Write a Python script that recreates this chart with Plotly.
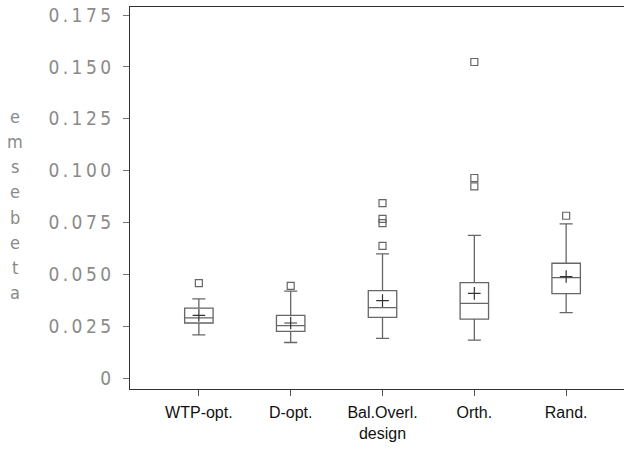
import plotly.graph_objects as go

categories = ["WTP-opt.", "D-opt.", "Bal.Overl.<br>design", "Orth.", "Rand."]
q1 = [0.0266, 0.0226, 0.0293, 0.0285, 0.0408]
medians = [0.0291, 0.0253, 0.0340, 0.0361, 0.0485]
q3 = [0.0338, 0.0303, 0.0422, 0.0461, 0.0554]
lower_whisker = [0.0209, 0.0172, 0.0192, 0.0184, 0.0316]
upper_whisker = [0.0382, 0.0420, 0.0599, 0.0688, 0.0744]
means = [0.0303, 0.0266, 0.0374, 0.0409, 0.0490]

outlier_cat = ["WTP-opt.", "D-opt.",
               "Bal.Overl.<br>design", "Bal.Overl.<br>design", "Bal.Overl.<br>design", "Bal.Overl.<br>design",
               "Orth.", "Orth.", "Orth.", "Rand."]
outlier_val = [0.0458, 0.0445,
               0.0844, 0.0768, 0.0747, 0.0638,
               0.1524, 0.0965, 0.0925, 0.0783]

y_ticks = [0, 0.025, 0.05, 0.075, 0.1, 0.125, 0.15, 0.175]
y_ticklabels = ["0", "0.025", "0.050", "0.075", "0.100", "0.125", "0.150", "0.175"]
y_title = "emsebeta"

THIN = "\u2009"
y_ticktext = [THIN.join(list(s)) for s in y_ticklabels]

line_col = "#666666"
narrow = "DejaVu Sans Condensed, sans-serif"

fig = go.Figure()
fig.add_trace(go.Box(
    x=categories, q1=q1, median=medians, q3=q3,
    lowerfence=lower_whisker, upperfence=upper_whisker,
    width=0.31, whiskerwidth=0.46,
    fillcolor="rgba(0,0,0,0)",
    line=dict(color=line_col, width=1.3),
    boxpoints=False, showlegend=False, hoverinfo="skip",
))
fig.add_trace(go.Scatter(
    x=categories, y=means, mode="markers",
    marker=dict(symbol="cross-thin", size=9, line=dict(color="#333333", width=1.2)),
    showlegend=False,
))
fig.add_trace(go.Scatter(
    x=outlier_cat, y=outlier_val, mode="markers",
    marker=dict(symbol="square-open", size=7, color=line_col, line=dict(width=1.2)),
    showlegend=False,
))

# vertical stacked axis title, one letter per line
n = len(y_title)
step = 25 / 381.0
annots = []
for i, ch in enumerate(y_title):
    annots.append(dict(
        text=ch, xref="paper", yref="paper",
        x=-0.232, y=0.483 + ((n - 1) / 2 - i) * step,
        xanchor="center", yanchor="middle", showarrow=False,
        font=dict(family=narrow, size=18, color="#8a8a8a"),
    ))

fig.update_layout(
    width=624, height=451,
    margin=dict(l=130, r=0, t=7, b=62),
    paper_bgcolor="white", plot_bgcolor="white",
    xaxis=dict(
        type="category", range=[-0.75, 4.63],
        showline=True, linecolor="#333333", linewidth=1.3, mirror=True,
        ticks="outside", ticklen=6, tickcolor="#555555",
        ticklabelstandoff=3,
        showgrid=False, zeroline=False,
        tickfont=dict(family="Liberation Sans, Arial, sans-serif", size=16, color="#111111"),
    ),
    yaxis=dict(
        range=[-0.0052, 0.1789],
        tickvals=y_ticks, ticktext=y_ticktext,
        showline=True, linecolor="#333333", linewidth=1.3,
        ticks="outside", ticklen=6, tickcolor="#777777",
        ticklabelstandoff=8,
        showgrid=False, zeroline=False,
        tickfont=dict(family=narrow, size=19, color="#8a8a8a"),
    ),
    annotations=annots,
)

fig.write_html("out.html")
